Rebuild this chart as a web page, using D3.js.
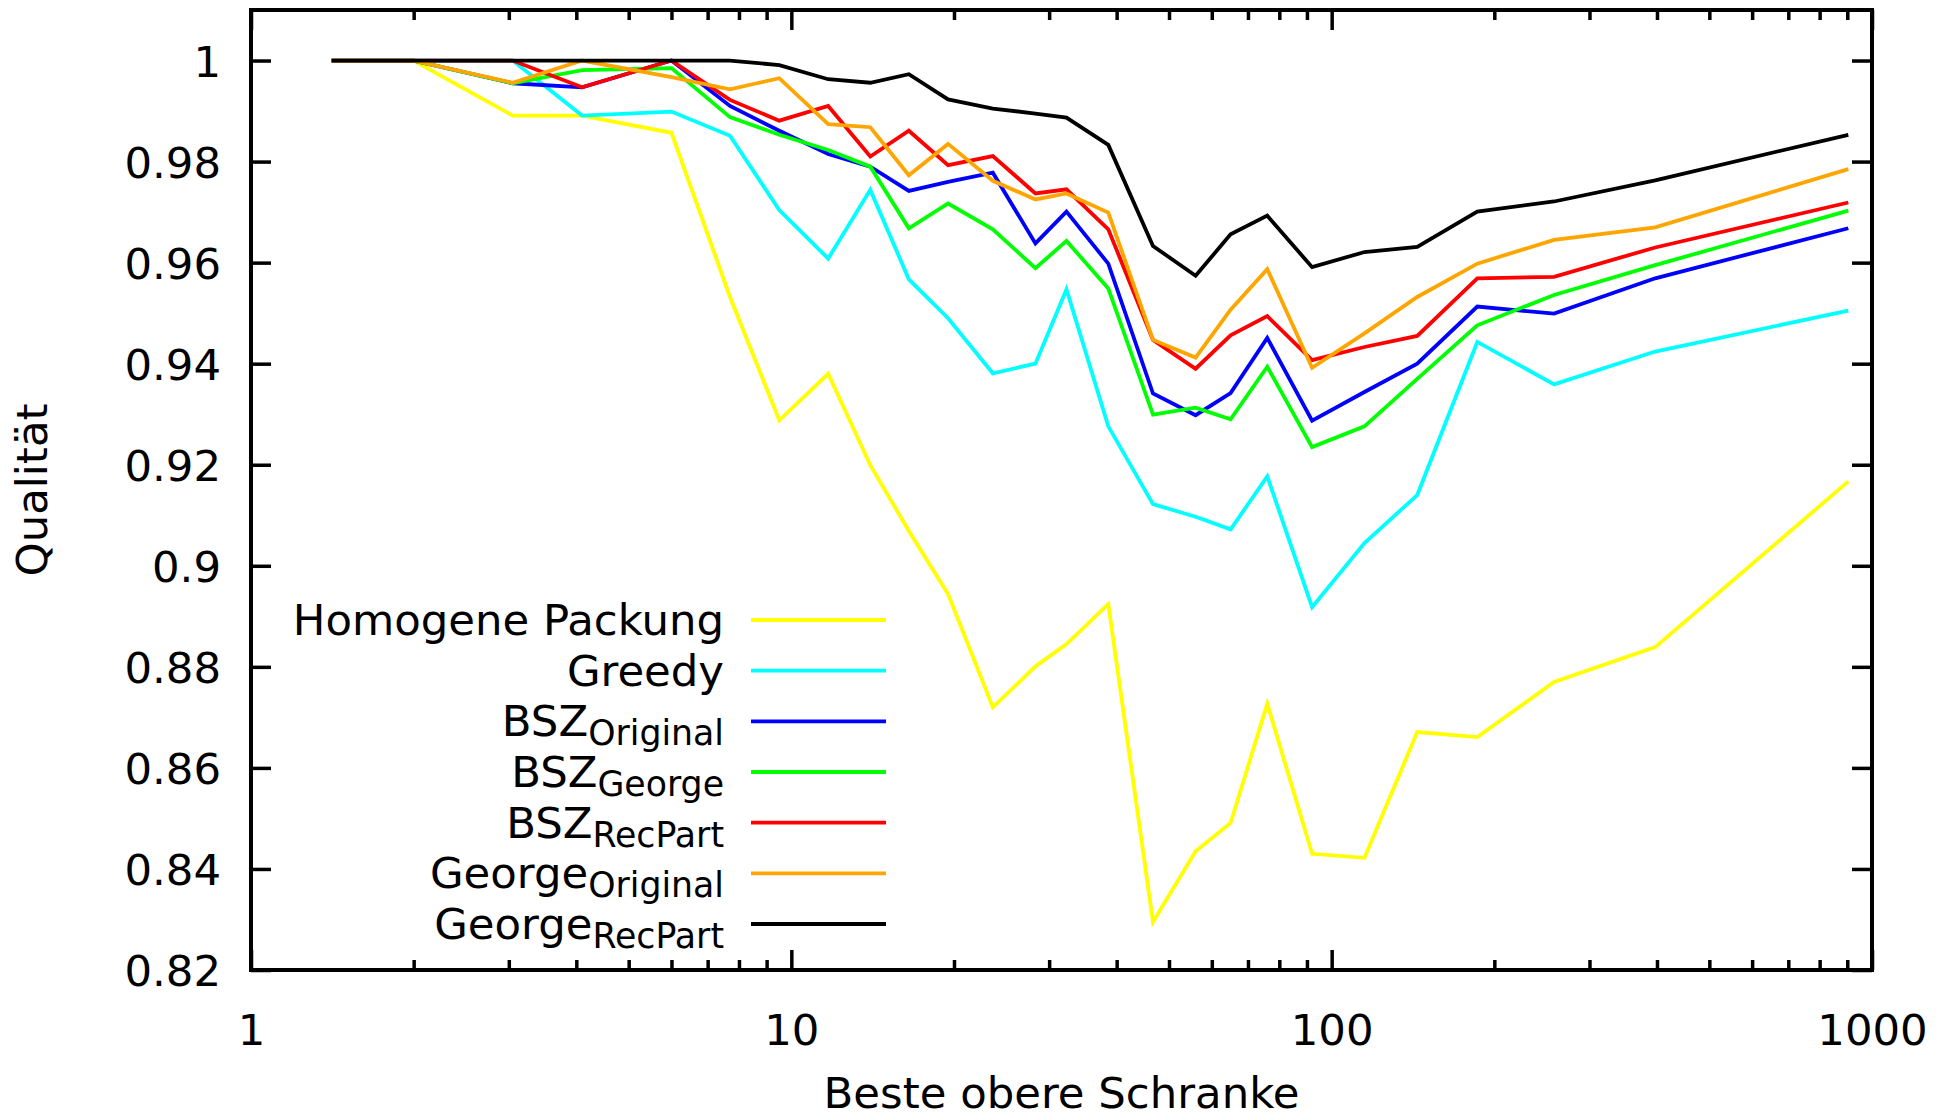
<!DOCTYPE html>
<html>
<head>
<meta charset="utf-8">
<script src="https://cdn.jsdelivr.net/npm/d3@7"></script>
<style>
body { margin: 0; background: #fff; }
text { font-family: "DejaVu Sans", sans-serif; fill: #000; }
</style>
</head>
<body>
<div id="chart-area"></div>
<script>
// Qualität vs. beste obere Schranke (log x)
const MARGIN = { LEFT: 251, RIGHT: 84, TOP: 10, BOTTOM: 148 }
const WIDTH = 1956 - MARGIN.LEFT - MARGIN.RIGHT
const HEIGHT = 1118 - MARGIN.TOP - MARGIN.BOTTOM

const schranke = [1.41, 2, 3.05, 4.1, 6, 7.7, 9.5, 11.7, 14, 16.5, 19.5, 23.6, 28.3, 32.3, 38.6, 46.7, 56, 65, 76, 92, 115, 144, 186, 258, 397, 904]

const homogen = [1, 1, 0.9891, 0.9891, 0.9857, 0.9532, 0.9288, 0.9380, 0.9199, 0.9069, 0.8944, 0.8720, 0.8801, 0.8845, 0.8924, 0.8295, 0.8435, 0.8491, 0.8727, 0.8430, 0.8422, 0.8671, 0.8661, 0.8770, 0.8839, 0.9167]
const greedy = [1, 1, 1, 0.9891, 0.9899, 0.9851, 0.9704, 0.9608, 0.9744, 0.9567, 0.9490, 0.9381, 0.9400, 0.9547, 0.9276, 0.9122, 0.9097, 0.9072, 0.9177, 0.8918, 0.9045, 0.9140, 0.9443, 0.9359, 0.9424, 0.9505]
const bszOriginal = [1, 1, 0.9955, 0.9947, 1, 0.9910, 0.9861, 0.9815, 0.9790, 0.9742, 0.9760, 0.9778, 0.9638, 0.9701, 0.9598, 0.9341, 0.9298, 0.9342, 0.9451, 0.9287, 0.9344, 0.9400, 0.9513, 0.9499, 0.9569, 0.9668]
const bszGeorge = [1, 1, 0.9955, 0.9981, 0.9985, 0.9888, 0.9853, 0.9823, 0.9790, 0.9668, 0.9717, 0.9666, 0.9589, 0.9643, 0.9549, 0.9299, 0.9313, 0.9290, 0.9394, 0.9235, 0.9276, 0.9370, 0.9476, 0.9536, 0.9595, 0.9703]
const bszRecPart = [1, 1, 1, 0.9947, 1, 0.9922, 0.9881, 0.9910, 0.9810, 0.9861, 0.9793, 0.9811, 0.9737, 0.9745, 0.9666, 0.9447, 0.9390, 0.9456, 0.9494, 0.9407, 0.9433, 0.9455, 0.9569, 0.9572, 0.9630, 0.9719]
const georgeOriginal = [1, 1, 0.9956, 1, 0.9967, 0.9943, 0.9965, 0.9874, 0.9868, 0.9773, 0.9835, 0.9762, 0.9725, 0.9737, 0.9699, 0.9447, 0.9412, 0.9507, 0.9587, 0.9392, 0.9460, 0.9532, 0.9598, 0.9645, 0.9670, 0.9785]
const georgeRecPart = [1, 1, 1, 1, 1, 1, 0.9991, 0.9963, 0.9956, 0.9973, 0.9923, 0.9905, 0.9895, 0.9887, 0.9833, 0.9633, 0.9574, 0.9656, 0.9693, 0.9591, 0.9621, 0.9631, 0.9701, 0.9721, 0.9763, 0.9853]

const seriesNames = ["Homogene Packung", "Greedy", "BSZ", "BSZ", "BSZ", "George", "George"]
const seriesSubs = ["", "", "Original", "George", "RecPart", "Original", "RecPart"]
const seriesColors = ["#ffff00", "#00ffff", "#0000ff", "#00ff00", "#ff0000", "#ffa500", "#000000"]
const seriesValues = [homogen, greedy, bszOriginal, bszGeorge, bszRecPart, georgeOriginal, georgeRecPart]

const xMajor = [1, 10, 100, 1000]
const xMinor = [2, 3, 4, 5, 6, 7, 8, 9, 20, 30, 40, 50, 60, 70, 80, 90, 200, 300, 400, 500, 600, 700, 800, 900]
const yTicks = [0.82, 0.84, 0.86, 0.88, 0.9, 0.92, 0.94, 0.96, 0.98, 1]

const FONT = 43.4

const svg = d3.select('#chart-area')
    .append('svg')
    .attr('width', 1956)
    .attr('height', 1118)

const g = svg.append('g')
    .attr('transform', `translate(${MARGIN.LEFT}, ${MARGIN.TOP})`)

const x = d3.scaleLog()
    .domain([1, 1000])
    .range([0, WIDTH])

const y = d3.scaleLinear()
    .domain([0.82, 1.01])
    .range([HEIGHT, 0])

// axes: bottom/left with labels, top/right mirrored ticks only
function styleAxis(sel) {
    sel.select('.domain').remove()
    sel.selectAll('line').attr('stroke', '#000').attr('stroke-width', 3.5)
    sel.selectAll('text').style('font-size', FONT + 'px').attr('fill', '#000')
}

g.append('g')
    .attr('transform', `translate(0, ${HEIGHT})`)
    .call(d3.axisBottom(x).tickValues(xMajor).tickSize(-20).tickPadding(44).tickFormat(d3.format('d')))
    .call(styleAxis)
    .selectAll('text').attr('dy', '0.71em')

g.append('g')
    .attr('transform', `translate(0, ${HEIGHT})`)
    .call(d3.axisBottom(x).tickValues(xMinor).tickSize(-10).tickFormat(''))
    .call(styleAxis)

g.append('g')
    .call(d3.axisTop(x).tickValues(xMajor).tickSize(-20).tickFormat(''))
    .call(styleAxis)

g.append('g')
    .call(d3.axisTop(x).tickValues(xMinor).tickSize(-10).tickFormat(''))
    .call(styleAxis)

g.append('g')
    .call(d3.axisLeft(y).tickValues(yTicks).tickSize(-20).tickPadding(30).tickFormat(d3.format('')))
    .call(styleAxis)
    .selectAll('text').attr('dy', '0.36em')

g.append('g')
    .attr('transform', `translate(${WIDTH}, 0)`)
    .call(d3.axisRight(y).tickValues(yTicks).tickSize(-20).tickFormat(''))
    .call(styleAxis)

// series
const line = d3.line()
    .x((d, i) => x(schranke[i]))
    .y(d => y(d))

g.selectAll('path.series')
    .data(seriesValues)
    .enter()
    .append('path')
    .attr('class', 'series')
    .attr('d', line)
    .attr('fill', 'none')
    .attr('stroke', (d, i) => seriesColors[i])
    .attr('stroke-width', 3.8)

// border
g.append('rect')
    .attr('width', WIDTH)
    .attr('height', HEIGHT)
    .attr('fill', 'none')
    .attr('stroke', '#000')
    .attr('stroke-width', 4)

// legend
const legend = g.append('g')
    .attr('transform', 'translate(0, 610)')

const rows = legend.selectAll('g')
    .data(seriesNames)
    .enter()
    .append('g')
    .attr('transform', (d, i) => `translate(0, ${i * 50.67})`)

rows.append('line')
    .attr('x1', 500).attr('x2', 635)
    .attr('y1', 0).attr('y2', 0)
    .attr('stroke', (d, i) => seriesColors[i])
    .attr('stroke-width', 3.8)

const lt = rows.append('text')
    .attr('x', 473)
    .attr('y', 15)
    .attr('text-anchor', 'end')
    .style('font-size', FONT + 'px')

lt.append('tspan').text(d => d)
lt.append('tspan')
    .attr('dy', 9)
    .style('font-size', (FONT * 0.8) + 'px')
    .text((d, i) => seriesSubs[i])

// axis titles
svg.append('text')
    .attr('x', MARGIN.LEFT + WIDTH / 2)
    .attr('y', 1108)
    .attr('text-anchor', 'middle')
    .style('font-size', FONT + 'px')
    .text('Beste obere Schranke')

svg.append('text')
    .attr('transform', `translate(47, ${MARGIN.TOP + HEIGHT / 2}) rotate(-90)`)
    .attr('text-anchor', 'middle')
    .style('font-size', FONT + 'px')
    .text('Qualität')
</script>
</body>
</html>
